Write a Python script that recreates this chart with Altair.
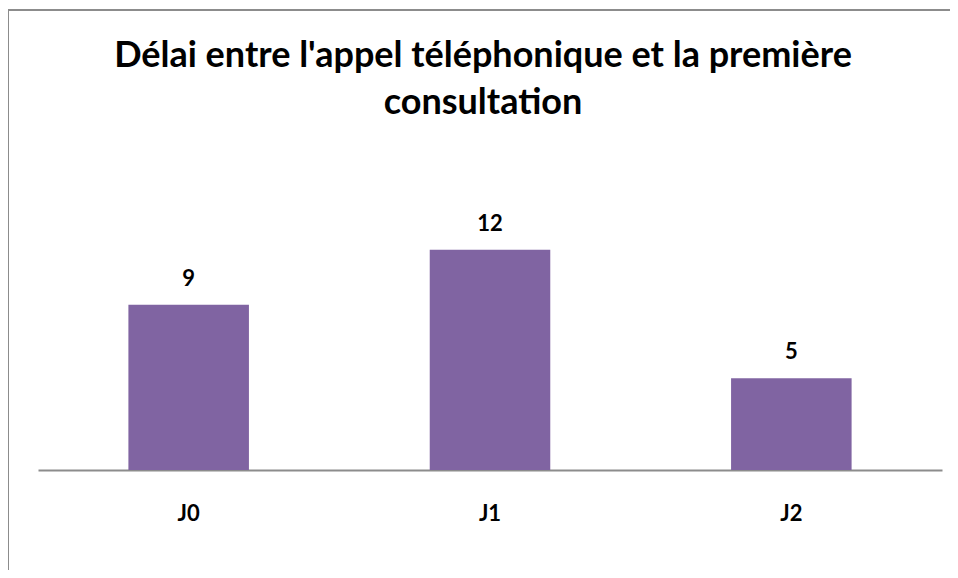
import altair as alt
import pandas as pd

categories = ["J0", "J1", "J2"]
values = [9, 12, 5]

df = pd.DataFrame({"cat": categories, "val": values})

FONT = "Lato"

x_enc = alt.X("cat:N", sort=categories, title=None,
              scale=alt.Scale(paddingInner=0.6, paddingOuter=0.3),
              axis=alt.Axis(labelAngle=0, labelFont=FONT, labelFontSize=22,
                            labelFontWeight="bold", labelColor="black",
                            labelPadding=33, ticks=False, domainColor="#8c8c8c",
                            domainWidth=2, grid=False))
y_enc = alt.Y("val:Q", title=None, scale=alt.Scale(domain=[0, 14], nice=False),
              axis=None)

bars = alt.Chart(df).mark_bar(color="#8064A2").encode(x=x_enc, y=y_enc)
labels = alt.Chart(df).mark_text(font=FONT, fontSize=22, fontWeight="bold",
                                 color="black", dy=-19, baseline="alphabetic").encode(
    x=x_enc, y=y_enc, text="val:Q")

border_left = alt.Chart(df).mark_rule(color="#8c8c8c", strokeWidth=2).encode(
    x=alt.value(-30), y=alt.value(-203), y2=alt.value(357))
border_top = alt.Chart(df).mark_rule(color="#8c8c8c", strokeWidth=2).encode(
    x=alt.value(-30), x2=alt.value(912), y=alt.value(-203))

chart = alt.layer(bars, labels, border_left, border_top).properties(
    width=904, height=257,
    autosize=alt.AutoSizeParams(type="none"),
    padding={"left": 30, "top": 205, "right": 8, "bottom": 100},
    title=alt.TitleParams(
        text=["Délai entre l'appel téléphonique et la première", "consultation"],
        font=FONT, fontSize=36, fontWeight="bold", color="black",
        lineHeight=47, anchor="middle", offset=-113, dx=-7),
).configure_view(stroke=None)

chart.save("out.html", embed_options={"renderer": "svg", "actions": False})
